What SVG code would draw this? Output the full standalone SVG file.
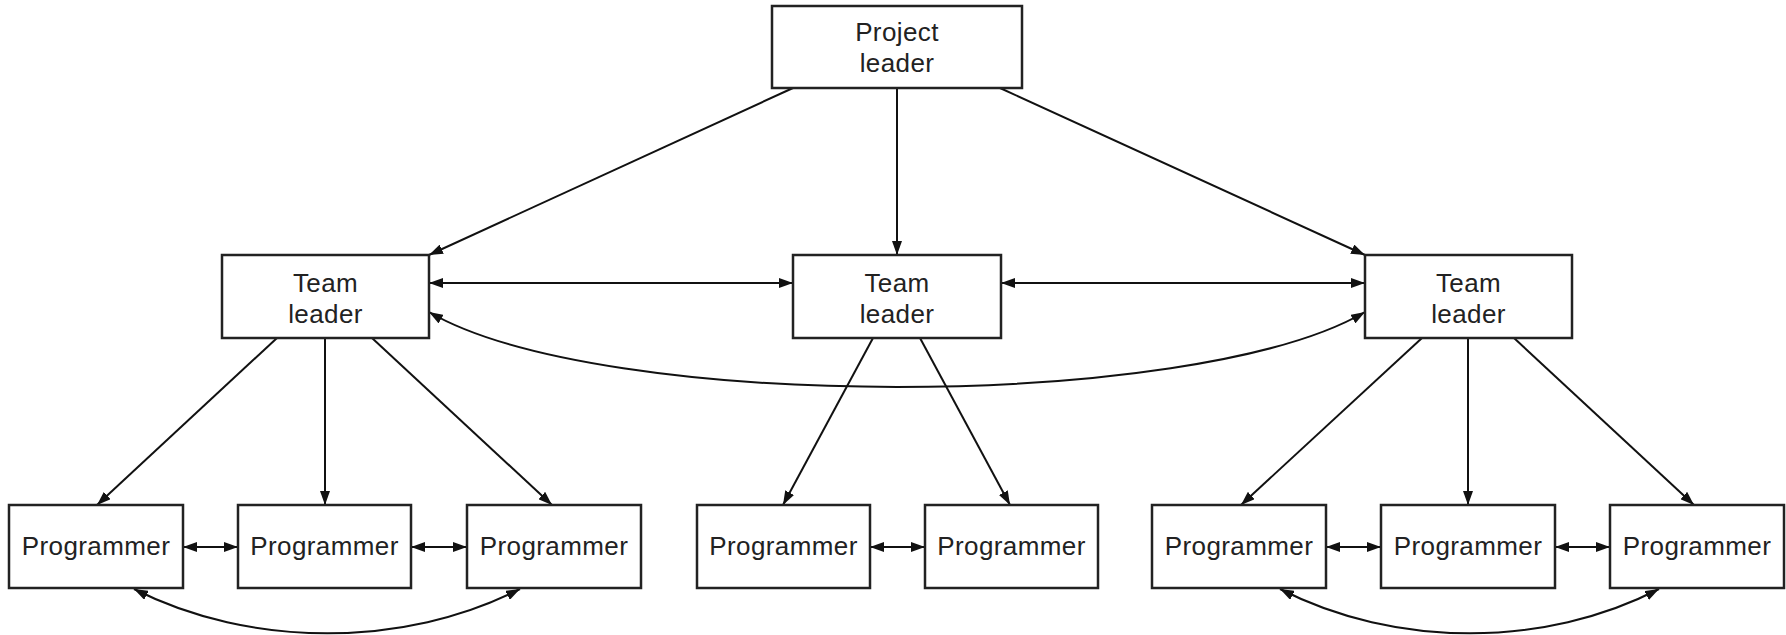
<svg xmlns="http://www.w3.org/2000/svg" width="1786" height="635" viewBox="0 0 1786 635">
<style>
  .box { fill: #fff; stroke: #222; stroke-width: 2.5; }
  .lbl { font-family: "Liberation Sans", Arial, sans-serif; font-size: 26px; fill: #222; text-anchor: middle; letter-spacing: 0.4px; }
  .c { fill: none; stroke: #111; stroke-width: 2; }
  .one { marker-end: url(#ah); }
  .two { marker-start: url(#ah); marker-end: url(#ah); }
</style>
<defs>
  <marker id="ah" markerUnits="userSpaceOnUse" markerWidth="16" markerHeight="10" refX="14" refY="5" orient="auto-start-reverse">
    <path d="M0,0 L14,5 L0,10 z" fill="#111"/>
  </marker>
</defs>
<rect width="1786" height="635" fill="#fff"/>
<g id="connectors">
  <line class="c one" x1="793" y1="88" x2="429" y2="255"/>
  <line class="c one" x1="897" y1="88" x2="897" y2="255"/>
  <line class="c one" x1="1000" y1="88" x2="1365" y2="255"/>
  <line class="c two" x1="429" y1="283" x2="793" y2="283"/>
  <line class="c two" x1="1001" y1="283" x2="1365" y2="283"/>
  <path class="c two" d="M429,312 C600,412 1194,412 1365,312"/>
  <line class="c one" x1="277" y1="338" x2="97" y2="505"/>
  <line class="c one" x1="325" y1="338" x2="325" y2="505"/>
  <line class="c one" x1="372" y1="338" x2="552" y2="505"/>
  <line class="c one" x1="873" y1="338" x2="783" y2="505"/>
  <line class="c one" x1="920" y1="338" x2="1010" y2="505"/>
  <line class="c one" x1="1422" y1="338" x2="1241" y2="505"/>
  <line class="c one" x1="1468" y1="338" x2="1468" y2="505"/>
  <line class="c one" x1="1514" y1="338" x2="1694" y2="505"/>
  <line class="c two" x1="183" y1="547" x2="238" y2="547"/>
  <line class="c two" x1="411" y1="547" x2="467" y2="547"/>
  <line class="c two" x1="870" y1="547" x2="925" y2="547"/>
  <line class="c two" x1="1326" y1="547" x2="1381" y2="547"/>
  <line class="c two" x1="1555" y1="547" x2="1610" y2="547"/>
  <path class="c two" d="M134,589 C250,648 405,648 520,589"/>
  <path class="c two" d="M1280,589 C1395,648 1545,648 1659,589"/>
</g>
<g id="project-leader">
  <rect class="box" x="772" y="6" width="250" height="82"/>
  <text class="lbl" x="897" y="41">Project</text>
  <text class="lbl" x="897" y="72">leader</text>
</g>
<g id="team-leader-1">
  <rect class="box" x="222" y="255" width="207" height="83"/>
  <text class="lbl" x="325.5" y="292">Team</text>
  <text class="lbl" x="325.5" y="323">leader</text>
</g>
<g id="team-leader-2">
  <rect class="box" x="793" y="255" width="208" height="83"/>
  <text class="lbl" x="897" y="292">Team</text>
  <text class="lbl" x="897" y="323">leader</text>
</g>
<g id="team-leader-3">
  <rect class="box" x="1365" y="255" width="207" height="83"/>
  <text class="lbl" x="1468.5" y="292">Team</text>
  <text class="lbl" x="1468.5" y="323">leader</text>
</g>
<g id="programmer-1">
  <rect class="box" x="9" y="505" width="174" height="83"/>
  <text class="lbl" x="96" y="555">Programmer</text>
</g>
<g id="programmer-2">
  <rect class="box" x="238" y="505" width="173" height="83"/>
  <text class="lbl" x="324.5" y="555">Programmer</text>
</g>
<g id="programmer-3">
  <rect class="box" x="467" y="505" width="174" height="83"/>
  <text class="lbl" x="554" y="555">Programmer</text>
</g>
<g id="programmer-4">
  <rect class="box" x="697" y="505" width="173" height="83"/>
  <text class="lbl" x="783.5" y="555">Programmer</text>
</g>
<g id="programmer-5">
  <rect class="box" x="925" y="505" width="173" height="83"/>
  <text class="lbl" x="1011.5" y="555">Programmer</text>
</g>
<g id="programmer-6">
  <rect class="box" x="1152" y="505" width="174" height="83"/>
  <text class="lbl" x="1239" y="555">Programmer</text>
</g>
<g id="programmer-7">
  <rect class="box" x="1381" y="505" width="174" height="83"/>
  <text class="lbl" x="1468" y="555">Programmer</text>
</g>
<g id="programmer-8">
  <rect class="box" x="1610" y="505" width="174" height="83"/>
  <text class="lbl" x="1697" y="555">Programmer</text>
</g>
</svg>
